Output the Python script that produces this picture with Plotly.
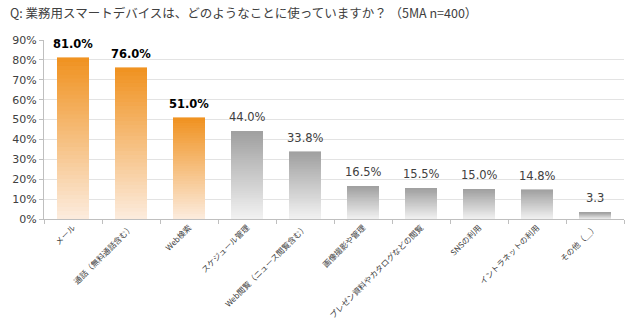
import plotly.graph_objects as go

# Survey answers (multiple answers allowed)
categories = [
    "メール",
    "通話（無料通話含む）",
    "Web検索",
    "スケジュール管理",
    "Web閲覧（ニュース閲覧含む）",
    "画像撮影や管理",
    "プレゼン資料やカタログなどの閲覧",
    "SNSの利用",
    "イントラネットの利用",
    "その他（＿）",
]
values = [81.0, 76.0, 51.0, 44.0, 33.8, 16.5, 15.5, 15.0, 14.8, 3.3]
value_labels = ["81.0%", "76.0%", "51.0%", "44.0%", "33.8%",
                "16.5%", "15.5%", "15.0%", "14.8%", "3.3"]
highlight = [True, True, True, False, False, False, False, False, False, False]

y_ticks = [0, 10, 20, 30, 40, 50, 60, 70, 80, 90]
y_tick_labels = ["0%", "10%", "20%", "30%", "40%", "50%", "60%", "70%", "80%", "90%"]

ORANGE_TOP = (240, 146, 32)
ORANGE_BOTTOM = (252, 236, 222)
GRAY_TOP = (160, 160, 160)
GRAY_BOTTOM = (242, 242, 242)


def mix(a, b, t):
    return "rgb({},{},{})".format(*[round(a[i] + (b[i] - a[i]) * t) for i in range(3)])


# Each bar is built from thin stacked slices to give a vertical gradient
N_SLICES = 40
fig = go.Figure()
for k in range(N_SLICES):
    t = (k + 0.5) / N_SLICES  # 0 = bottom, 1 = top
    colors = [
        mix(ORANGE_BOTTOM, ORANGE_TOP, t) if h else mix(GRAY_BOTTOM, GRAY_TOP, t)
        for h in highlight
    ]
    fig.add_trace(go.Bar(
        x=categories,
        y=[v / N_SLICES for v in values],
        marker=dict(color=colors, line=dict(width=0.6, color=colors)),
        hoverinfo="skip",
        showlegend=False,
    ))

for cat, v, lab, h in zip(categories, values, value_labels, highlight):
    fig.add_annotation(
        x=cat, y=v, text=f"<b>{lab}</b>" if h else lab,
        showarrow=False, yanchor="bottom", yshift=5,
        font=dict(family="DejaVu Sans", size=11.5, color="#000000" if h else "#404040"),
    )

fig.add_annotation(
    xref="paper", yref="paper", x=-0.062, y=1.0, yshift=28,
    xanchor="left", yanchor="middle", showarrow=False,
    text="Q: 業務用スマートデバイスは、どのようなことに使っていますか？ （5MA n=400）",
    font=dict(family="Noto Sans CJK JP", size=12.5, color="#404040"),
)

fig.update_layout(
    width=630, height=325,
    margin=dict(l=44, r=6, t=40, b=106),
    paper_bgcolor="white", plot_bgcolor="white",
    barmode="stack", bargap=0.46,
    xaxis=dict(
        type="category", tickangle=-45, showgrid=False,
        showline=True, linecolor="#BFBFBF", linewidth=1,
        ticks="outside", tickson="boundaries", ticklen=4, tickcolor="#BFBFBF",
        tickfont=dict(family="Noto Sans CJK JP", size=8, color="#404040"),
    ),
    yaxis=dict(
        range=[0, 90], tickvals=y_ticks, ticktext=y_tick_labels,
        showgrid=True, gridcolor="#E3E3E3", gridwidth=1,
        showline=True, linecolor="#BFBFBF", linewidth=1,
        ticks="outside", ticklen=4, tickcolor="#BFBFBF",
        tickfont=dict(family="DejaVu Sans", size=11, color="#404040"),
        zeroline=False,
    ),
)

fig.write_html("out.html")
